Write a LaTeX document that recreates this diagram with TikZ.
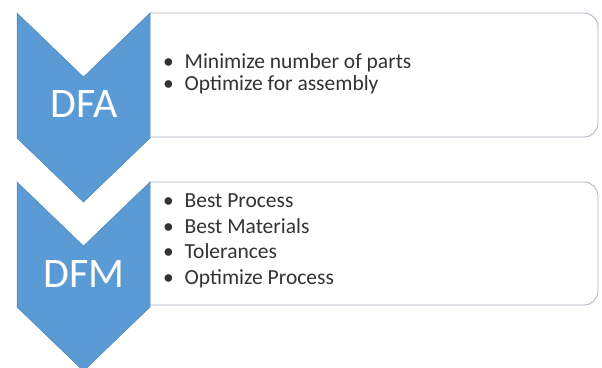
\documentclass[tikz,border=0pt]{standalone}
\usepackage{fontspec}
\setmainfont{Carlito}
\definecolor{chevblue}{HTML}{5B9BD5}
\definecolor{boxgray}{HTML}{A9B3BE}
\definecolor{textgray}{HTML}{333333}
\tikzset{
  chevron/.style={fill=chevblue, draw=chevblue!85!black, line width=0.5pt},
  listbox/.style={fill=white, draw=boxgray, line width=0.8pt, rounded corners=14pt},
  steplabel/.style={text=white, font=\fontsize{42}{44}\selectfont, inner sep=0pt},
  itemlist/.style={text=textgray, align=left, anchor=north west, inner sep=0pt}
}
\begin{document}
\begin{tikzpicture}[x=1pt,y=-1pt]
    \useasboundingbox (0,0) rectangle (602,367);

    % Boxes with the bullet lists
    \draw[listbox] (150,13) -- (598,13) -- (598,137) -- (150,137);
    \draw[listbox] (150,182) -- (598,182) -- (598,305) -- (150,305);

    % Chevrons
    \draw[chevron] (17,13) -- (83.5,77) -- (150,13) -- (150,138) -- (83.5,202) -- (17,138) -- cycle;
    \draw[chevron] (17,182) -- (83.5,246) -- (150,182) -- (150,307) -- (83.5,371) -- (17,307) -- cycle;

    % Step labels
    \node[steplabel] (dfa) at (84,104.5) {DFA};
    \node[steplabel] (dfm) at (84,274) {DFM};

    % Bullet lists
    \node[itemlist, font=\fontsize{21.5}{22}\selectfont] (dfalist) at (163,53.5)
      {\textbullet\enspace Minimize number of parts\\
       \textbullet\enspace Optimize for assembly};
    \node[itemlist, font=\fontsize{21.5}{25.7}\selectfont] (dfmlist) at (163,193.5)
      {\textbullet\enspace Best Process\\
       \textbullet\enspace Best Materials\\
       \textbullet\enspace Tolerances\\
       \textbullet\enspace Optimize Process};
  \end{tikzpicture}
\end{document}
